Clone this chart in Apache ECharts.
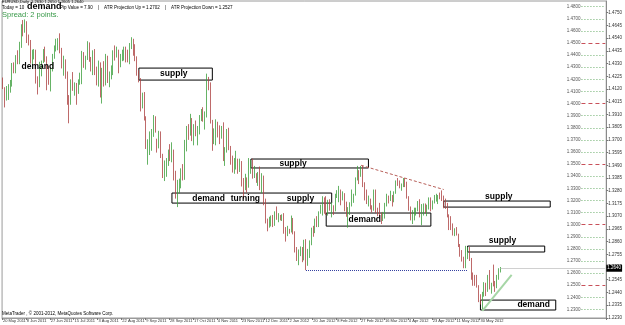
<!DOCTYPE html>
<html>
<head>
<meta charset="utf-8">
<script src="https://cdn.jsdelivr.net/npm/echarts@6/dist/echarts.min.js"></script>
<style>
	html, body { margin: 0; padding: 0; background: #fff; }
	#chart { width: 625px; height: 325px; }
</style>
</head>
<body>
<div id="chart"></div>
<script>
// date labels under the axis, one every 13 bars
var dateLabels = ['20 May 2011', '8 Jun 2011', '27 Jun 2011', '15 Jul 2011', '3 Aug 2011', '22 Aug 2011',
	'9 Sep 2011', '28 Sep 2011', '17 Oct 2011', '4 Nov 2011', '23 Nov 2011', '12 Dec 2011', '2 Jan 2012',
	'20 Jan 2012', '8 Feb 2012', '27 Feb 2012', '16 Mar 2012', '4 Apr 2012', '23 Apr 2012', '11 May 2012', '30 May 2012'];
var labelStep = 13;
var slotCount = 329; // bars + empty shift area on the right

// price scale labels (right)
var priceTicks = [1.4750, 1.4645, 1.4540, 1.4435, 1.4330, 1.4225, 1.4120, 1.4015, 1.3910, 1.3805, 1.3700,
	1.3595, 1.3490, 1.3385, 1.3280, 1.3175, 1.3070, 1.2965, 1.2860, 1.2755, 1.2650, 1.2545, 1.2440, 1.2335, 1.2230];

// daily bars EURUSD: [open, close, low, high]
var ohlc = [
	[1.4165,1.4155,1.4120,1.4215],[1.4120,1.4060,1.3968,1.4135],[1.4060,1.4105,1.4025,1.4145],[1.4105,1.4120,1.4030,1.4160],
	[1.4120,1.4155,1.4090,1.4195],[1.4155,1.4310,1.4140,1.4335],[1.4310,1.4300,1.4250,1.4340],[1.4300,1.4395,1.4250,1.4400],
	[1.4395,1.4370,1.4325,1.4440],[1.4370,1.4490,1.4325,1.4510],[1.4490,1.4640,1.4460,1.4655],[1.4640,1.4600,1.4555,1.4690],
	[1.4600,1.4665,1.4585,1.4695],[1.4665,1.4515,1.4500,1.4680],[1.4515,1.4500,1.4480,1.4570],[1.4500,1.4340,1.4330,1.4525],
	[1.4340,1.4385,1.4285,1.4445],[1.4385,1.4415,1.4365,1.4450],[1.4415,1.4185,1.4165,1.4445],[1.4185,1.4155,1.4075,1.4225],
	[1.4155,1.4310,1.4135,1.4345],[1.4310,1.4350,1.4225,1.4355],[1.4350,1.4415,1.4335,1.4450],[1.4415,1.4370,1.4345,1.4470],
	[1.4370,1.4225,1.4110,1.4390],[1.4225,1.4190,1.4155,1.4310],[1.4190,1.4290,1.4100,1.4300],[1.4290,1.4385,1.4265,1.4410],
	[1.4385,1.4470,1.4370,1.4480],[1.4470,1.4500,1.4430,1.4535],[1.4500,1.4525,1.4440,1.4540],[1.4525,1.4440,1.4415,1.4580],
	[1.4440,1.4330,1.4290,1.4460],[1.4330,1.4355,1.4230,1.4395],[1.4355,1.4260,1.4205,1.4365],[1.4260,1.4030,1.3990,1.4265],
	[1.4030,1.3990,1.3837,1.4070],[1.3990,1.4165,1.3990,1.4200],[1.4165,1.4150,1.4105,1.4260],[1.4150,1.4150,1.4065,1.4175],
	[1.4150,1.4090,1.3990,1.4170],[1.4090,1.4175,1.4080,1.4200],[1.4175,1.4215,1.4155,1.4255],[1.4215,1.4390,1.4160,1.4435],
	[1.4390,1.4355,1.4295,1.4425],[1.4355,1.4375,1.4280,1.4395],[1.4375,1.4490,1.4360,1.4515],[1.4490,1.4365,1.4345,1.4505],
	[1.4365,1.4340,1.4265,1.4385],[1.4340,1.4395,1.4235,1.4440],[1.4395,1.4245,1.4235,1.4450],[1.4245,1.4185,1.4150,1.4305],
	[1.4185,1.4305,1.4140,1.4355],[1.4305,1.4105,1.4050,1.4340],[1.4105,1.4280,1.4000,1.4295],[1.4280,1.4195,1.4140,1.4350],
	[1.4195,1.4375,1.4150,1.4410],[1.4375,1.4185,1.4170,1.4395],[1.4185,1.4240,1.4135,1.4265],[1.4240,1.4240,1.4200,1.4315],
	[1.4240,1.4425,1.4235,1.4440],[1.4425,1.4405,1.4355,1.4480],[1.4405,1.4440,1.4380,1.4470],[1.4440,1.4320,1.4250,1.4445],
	[1.4320,1.4390,1.4300,1.4410],[1.4390,1.4400,1.4350,1.4445],[1.4400,1.4450,1.4355,1.4470],[1.4450,1.4410,1.4340,1.4470],
	[1.4410,1.4380,1.4340,1.4445],[1.4380,1.4490,1.4325,1.4500],[1.4490,1.4500,1.4450,1.4548],[1.4500,1.4430,1.4395,1.4535],
	[1.4430,1.4375,1.4350,1.4490],[1.4375,1.4245,1.4230,1.4390],[1.4245,1.4205,1.4175,1.4275],[1.4205,1.4020,1.3935,1.4210],
	[1.4020,1.4070,1.3960,1.4090],[1.4070,1.3880,1.3860,1.4095],[1.3880,1.3655,1.3625,1.3895],[1.3655,1.3675,1.3495,1.3705],
	[1.3675,1.3705,1.3575,1.3770],[1.3705,1.3760,1.3610,1.3790],[1.3760,1.3880,1.3725,1.3905],[1.3880,1.3795,1.3760,1.3895],
	[1.3795,1.3685,1.3595,1.3710],[1.3685,1.3710,1.3630,1.3775],[1.3710,1.3570,1.3550,1.3770],[1.3570,1.3460,1.3385,1.3585],
	[1.3460,1.3500,1.3360,1.3530],[1.3500,1.3515,1.3395,1.3550],[1.3515,1.3600,1.3485,1.3620],[1.3600,1.3540,1.3525,1.3665],
	[1.3540,1.3590,1.3515,1.3680],[1.3590,1.3390,1.3365,1.3620],[1.3390,1.3250,1.3215,1.3445],[1.3250,1.3340,1.3145,1.3370],
	[1.3340,1.3350,1.3260,1.3380],[1.3350,1.3410,1.3300,1.3465],[1.3410,1.3375,1.3365,1.3500],[1.3385,1.3620,1.3370,1.3700],
	[1.3620,1.3790,1.3605,1.3815],[1.3790,1.3760,1.3700,1.3830],[1.3760,1.3880,1.3735,1.3915],[1.3880,1.3710,1.3690,1.3880],
	[1.3710,1.3805,1.3655,1.3830],[1.3805,1.3750,1.3730,1.3860],[1.3750,1.3765,1.3655,1.3815],[1.3765,1.3890,1.3745,1.3905],
	[1.3890,1.3915,1.3855,1.3955],[1.3915,1.3880,1.3850,1.3970],[1.3880,1.3905,1.3785,1.3935],[1.3905,1.4180,1.3885,1.4247],
	[1.4180,1.4145,1.4110,1.4220],[1.4145,1.3850,1.3835,1.4175],[1.3850,1.3700,1.3610,1.3865],[1.3700,1.3770,1.3665,1.3795],
	[1.3770,1.3810,1.3655,1.3870],[1.3810,1.3780,1.3720,1.3850],[1.3780,1.3770,1.3665,1.3820],[1.3770,1.3800,1.3710,1.3815],
	[1.3800,1.3540,1.3525,1.3845],[1.3540,1.3610,1.3485,1.3640],[1.3610,1.3750,1.3595,1.3790],[1.3750,1.3625,1.3615,1.3800],
	[1.3625,1.3530,1.3495,1.3650],[1.3530,1.3460,1.3430,1.3570],[1.3460,1.3460,1.3420,1.3550],[1.3460,1.3520,1.3455,1.3610],
	[1.3520,1.3485,1.3420,1.3545],[1.3485,1.3505,1.3435,1.3545],[1.3505,1.3350,1.3315,1.3525],[1.3350,1.3240,1.3212,1.3385],
	[1.3300,1.3330,1.3285,1.3420],[1.3330,1.3315,1.3265,1.3390],[1.3315,1.3445,1.3305,1.3550],[1.3445,1.3460,1.3420,1.3535],
	[1.3460,1.3390,1.3380,1.3545],[1.3390,1.3400,1.3385,1.3485],[1.3400,1.3390,1.3345,1.3425],[1.3390,1.3390,1.3320,1.3435],
	[1.3390,1.3350,1.3285,1.3480],[1.3350,1.3385,1.3260,1.3425],[1.3385,1.3180,1.3160,1.3405],[1.3180,1.3025,1.3010,1.3215],
	[1.3025,1.2990,1.2945,1.3050],[1.2990,1.3020,1.2975,1.3065],[1.3020,1.3045,1.2985,1.3075],[1.3045,1.3010,1.2980,1.3080],
	[1.3010,1.3070,1.2990,1.3110],[1.3070,1.3050,1.3040,1.3150],[1.3050,1.3060,1.3020,1.3095],[1.3060,1.3045,1.3035,1.3080],
	[1.3045,1.3080,1.3030,1.3085],[1.3080,1.2945,1.2925,1.3095],[1.2945,1.2940,1.2860,1.2980],[1.2940,1.2960,1.2905,1.2990],
	[1.2960,1.2945,1.2925,1.2965],[1.2945,1.3050,1.2935,1.3075],[1.3050,1.2940,1.2920,1.3055],[1.2940,1.2785,1.2770,1.2945],
	[1.2785,1.2720,1.2700,1.2815],[1.2720,1.2765,1.2665,1.2795],[1.2765,1.2805,1.2740,1.2820],[1.2805,1.2715,1.2690,1.2815],
	[1.2715,1.2825,1.2705,1.2875],[1.2825,1.2680,1.2624,1.2880],[1.2680,1.2740,1.2660,1.2800],[1.2740,1.2845,1.2725,1.2870],
	[1.2845,1.2960,1.2830,1.2975],[1.2960,1.2935,1.2900,1.2990],[1.2935,1.3045,1.2930,1.3050],[1.3045,1.3030,1.2980,1.3070],
	[1.3030,1.3100,1.2980,1.3110],[1.3100,1.3155,1.3090,1.3165],[1.3155,1.3215,1.3075,1.3235],[1.3215,1.3140,1.3090,1.3225],
	[1.3140,1.3085,1.3080,1.3235],[1.3085,1.3160,1.3075,1.3205],[1.3160,1.3145,1.3115,1.3210],[1.3145,1.3160,1.3060,1.3185],
	[1.3160,1.3135,1.3080,1.3160],[1.3135,1.3240,1.3110,1.3255],[1.3240,1.3265,1.3220,1.3285],[1.3265,1.3285,1.3185,1.3320],
	[1.3285,1.3195,1.3160,1.3290],[1.3195,1.3245,1.3200,1.3275],[1.3245,1.3140,1.3110,1.3260],[1.3140,1.3080,1.3065,1.3190],
	[1.3080,1.3140,1.2975,1.3145],[1.3140,1.3155,1.3080,1.3185],[1.3155,1.3235,1.3150,1.3290],[1.3235,1.3245,1.3180,1.3255],
	[1.3245,1.3385,1.3240,1.3390],[1.3385,1.3450,1.3365,1.3485],[1.3450,1.3415,1.3335,1.3450],[1.3415,1.3460,1.3395,1.3485],
	[1.3460,1.3330,1.3310,1.3486],[1.3330,1.3210,1.3200,1.3350],[1.3210,1.3205,1.3170,1.3290],[1.3205,1.3215,1.3150,1.3240],
	[1.3215,1.3140,1.3125,1.3215],[1.3140,1.3125,1.3100,1.3160],[1.3125,1.3275,1.3115,1.3290],[1.3275,1.3125,1.3095,1.3290],
	[1.3125,1.3110,1.3070,1.3140],[1.3110,1.3060,1.3055,1.3180],[1.3060,1.3050,1.3005,1.3100],[1.3050,1.3065,1.3030,1.3105],
	[1.3065,1.3175,1.3050,1.3180],[1.3175,1.3230,1.3150,1.3255],[1.3230,1.3215,1.3175,1.3240],[1.3215,1.3235,1.3195,1.3280],
	[1.3235,1.3195,1.3150,1.3245],[1.3195,1.3265,1.3185,1.3275],[1.3265,1.3350,1.3255,1.3365],[1.3350,1.3345,1.3320,1.3385],
	[1.3345,1.3315,1.3300,1.3365],[1.3315,1.3315,1.3280,1.3340],[1.3315,1.3345,1.3310,1.3385],[1.3345,1.3320,1.3310,1.3385],
	[1.3320,1.3230,1.3215,1.3355],[1.3230,1.3135,1.3115,1.3235],[1.3135,1.3065,1.3035,1.3150],[1.3065,1.3100,1.3005,1.3120],
	[1.3100,1.3100,1.3035,1.3140],[1.3100,1.3130,1.3075,1.3140],[1.3130,1.3155,1.3110,1.3195],[1.3155,1.3075,1.3060,1.3210],
	[1.3075,1.3150,1.2995,1.3170],[1.3150,1.3155,1.3075,1.3175],[1.3155,1.3125,1.3095,1.3175],[1.3125,1.3140,1.3070,1.3165],
	[1.3140,1.3220,1.3125,1.3225],[1.3220,1.3155,1.3110,1.3225],[1.3155,1.3185,1.3125,1.3200],[1.3185,1.3220,1.3175,1.3245],
	[1.3220,1.3225,1.3190,1.3255],[1.3225,1.3240,1.3170,1.3245],[1.3240,1.3235,1.3210,1.3265],[1.3235,1.3220,1.3195,1.3283],
	[1.3220,1.3160,1.3135,1.3240],[1.3160,1.3150,1.3130,1.3215],[1.3150,1.3080,1.3060,1.3180],[1.3080,1.3050,1.2955,1.3085],
	[1.3050,1.2975,1.2955,1.3070],[1.2975,1.2925,1.2910,1.3010],[1.2925,1.2945,1.2905,1.2970],[1.2945,1.2915,1.2910,1.2980],
	[1.2915,1.2830,1.2815,1.2925],[1.2830,1.2750,1.2735,1.2840],[1.2750,1.2715,1.2695,1.2790],[1.2715,1.2665,1.2640,1.2735],
	[1.2665,1.2780,1.2640,1.2825],[1.2780,1.2780,1.2715,1.2815],[1.2780,1.2715,1.2700,1.2815],[1.2715,1.2580,1.2545,1.2725],
	[1.2580,1.2565,1.2495,1.2605],[1.2565,1.2515,1.2495,1.2585],[1.2515,1.2490,1.2480,1.2585],[1.2490,1.2375,1.2360,1.2500],
	[1.2375,1.2365,1.2340,1.2425],[1.2365,1.2435,1.2288,1.2445],[1.2435,1.2500,1.2405,1.2525],[1.2500,1.2455,1.2410,1.2520],
	[1.2455,1.2565,1.2445,1.2585],[1.2565,1.2475,1.2465,1.2625],[1.2475,1.2515,1.2430,1.2520],[1.2515,1.2500,1.2490,1.2670],
	[1.2500,1.2495,1.2445,1.2535],[1.2495,1.2565,1.2475,1.2585],[1.2565,1.2630,1.2545,1.2640],[1.2630,1.2640,1.2605,1.2650]
];

// round-number levels drawn at the right edge
var levelLines = [1.48, 1.47, 1.46, 1.45, 1.44, 1.43, 1.42, 1.41, 1.40, 1.39, 1.38, 1.37, 1.36,
	1.35, 1.34, 1.33, 1.32, 1.31, 1.30, 1.29, 1.28, 1.27, 1.26, 1.25, 1.24, 1.23];
var majorLevels = [1.45, 1.40, 1.35, 1.30, 1.25];

// supply / demand boxes: [from bar, to bar, low, high]
var zones = [
	[74, 114, 1.4194, 1.4293],
	[135, 199, 1.3468, 1.3542],
	[92, 179, 1.3178, 1.3261],
	[176, 233, 1.2988, 1.3096],
	[240, 298, 1.3145, 1.3195],
	[253, 295, 1.2774, 1.2823],
	[260, 301, 1.2295, 1.2377]
];
// notes: [text, bar, price]
var notes = [
	['demand', 19, 1.4302],
	['supply', 93, 1.4244],
	['supply', 158, 1.3505],
	['demand', 112, 1.3218],
	['turning', 132, 1.3218],
	['supply', 162, 1.3218],
	['demand', 197, 1.3040],
	['supply', 270, 1.3228],
	['supply', 272, 1.2864],
	['demand', 289, 1.2336]
];
// drawn lines: [bar1, price1, bar2, price2]
var trendDown = [195, 1.3490, 240, 1.3290];
var janLow = [165, 1.2624, 253, 1.2624];
var trendUp = [261, 1.2288, 277, 1.2585];
var lastPrice = 1.2640;
</script>
<script>
(function() {
	var myChart = echarts.init(document.getElementById('chart'));

	var cats = [];
	for (var i = 0; i < slotCount; i++) cats.push(i);

	function showDate(idx) {
		return idx % labelStep === 0 && idx / labelStep < dateLabels.length;
	}

	var lineData = [];
	levelLines.forEach(function(v) {
		var major = majorLevels.indexOf(v) >= 0;
		lineData.push([{
			coord: [315, v],
			lineStyle: {
				color: major ? '#c8505a' : '#6cae6c',
				type: major ? [4, 3] : [1, 2],
				width: 1
			},
			label: {
				show: true,
				position: 'start',
				distance: 1,
				formatter: v.toFixed(4),
				fontSize: 4.5,
				color: '#555'
			}
		}, {
			coord: [slotCount - 1, v]
		}]);
	});
	lineData.push([{
		coord: [trendDown[0], trendDown[1]],
		lineStyle: { color: '#b8605a', type: [3, 2], width: 1 }
	}, { coord: [trendDown[2], trendDown[3]] }]);
	lineData.push([{
		coord: [janLow[0], janLow[1]],
		lineStyle: { color: '#3440a0', type: [1, 1], width: 1 }
	}, { coord: [janLow[2], janLow[3]] }]);
	lineData.push([{
		coord: [trendUp[0], trendUp[1]],
		lineStyle: { color: '#a6d6a6', type: 'solid', width: 2 }
	}, { coord: [trendUp[2], trendUp[3]] }]);
	lineData.push([{
		coord: [ohlc.length - 1, lastPrice],
		lineStyle: { color: '#d0d0d0', type: 'solid', width: 1 }
	}, {
		coord: [slotCount - 1, lastPrice],
		label: {
			show: true,
			position: 'end',
			distance: 1,
			formatter: lastPrice.toFixed(4),
			fontSize: 4.5,
			color: '#fff',
			backgroundColor: '#000',
			padding: [1, 1]
		}
	}]);

	var areaData = zones.map(function(z) {
		return [{ coord: [z[0], z[3]] }, { coord: [z[1], z[2]] }];
	});

	var pointData = notes.map(function(n) {
		return { name: n[0], coord: [n[1], n[2]] };
	});

	var option = {
		animation: false,
		backgroundColor: '#fff',
		grid: {
			left: 2,
			right: 15,
			top: 1,
			bottom: 7,
			show: true,
			borderColor: '#9a9a9a',
			borderWidth: 1
		},
		xAxis: {
			type: 'category',
			data: cats,
			boundaryGap: true,
			axisLine: { lineStyle: { color: '#9a9a9a' } },
			axisTick: {
				show: true,
				length: 2,
				lineStyle: { color: '#777' },
				interval: function(idx) { return showDate(idx); }
			},
			axisLabel: {
				fontSize: 4,
				color: '#333',
				margin: 1,
				align: 'left',
				hideOverlap: false,
				showMinLabel: true,
				fontFamily: 'Liberation Sans',
				interval: function(idx) { return showDate(idx); },
				formatter: function(v, idx) { return dateLabels[idx / labelStep] || ''; }
			},
			splitLine: { show: false }
		},
		yAxis: {
			type: 'value',
			position: 'right',
			min: 1.2229,
			max: 1.4847,
			axisLine: { show: true, lineStyle: { color: '#8a8a8a' } },
			axisTick: { show: true, length: 2, customValues: priceTicks, lineStyle: { color: '#777' } },
			axisLabel: {
				fontSize: 4.5,
				color: '#333',
				margin: 2,
				fontFamily: 'Liberation Sans',
				customValues: priceTicks,
				formatter: function(v) { return v.toFixed(4); }
			},
			splitLine: { show: false }
		},
		series: [{
			type: 'candlestick',
			data: ohlc,
			barWidth: 1.3,
			itemStyle: {
				color: '#3f9f3f',
				color0: '#ad4444',
				borderColor: '#3f9f3f',
				borderColor0: '#ad4444',
				borderWidth: 0.8
			},
			markArea: {
				silent: true,
				itemStyle: {
					color: 'rgba(255,255,255,0)',
					borderColor: '#000',
					borderWidth: 1
				},
				label: { show: false },
				data: areaData
			},
			markLine: {
				silent: true,
				symbol: ['none', 'none'],
				label: { show: false },
				data: lineData
			},
			markPoint: {
				silent: true,
				symbol: 'circle',
				symbolSize: 1,
				itemStyle: { color: 'rgba(0,0,0,0)' },
				label: {
					show: true,
					position: 'inside',
					formatter: function(p) { return p.name; },
					fontSize: 8.5,
					fontWeight: 'bold',
					fontFamily: 'Liberation Sans',
					color: '#000'
				},
				data: pointData
			}
		}],
		graphic: [{
			type: 'text', left: 2, top: 0,
			style: { text: 'EURUSD,Daily  1.2630 1.2650 1.2605 1.2640', fontSize: 4, fill: '#000', fontFamily: 'Liberation Sans' }
		}, {
			type: 'text', left: 2, top: 5,
			style: { text: 'Today = 10', fontSize: 4.5, fill: '#000', fontFamily: 'Liberation Sans' }
		}, {
			type: 'text', left: 27, top: 2,
			style: { text: 'demand', fontSize: 9, fontWeight: 'bold', fill: '#000', fontFamily: 'Liberation Sans' }
		}, {
			type: 'text', left: 60, top: 5,
			style: { text: 'Pip Value = 7.90    |    ATR Projection Up = 1.2702    |    ATR Projection Down = 1.2527', fontSize: 4.5, fill: '#000', fontFamily: 'Liberation Sans' }
		}, {
			type: 'text', left: 2, top: 11,
			style: { text: 'Spread: 2 points.', fontSize: 7.5, fill: '#3a9a4a', fontFamily: 'Liberation Sans' }
		}, {
			type: 'text', left: 2, top: 311,
			style: { text: 'MetaTrader , \u00a9 2001-2012, MetaQuotes Software Corp.', fontSize: 4.5, fill: '#000', fontFamily: 'Liberation Sans' }
		}]
	};

	myChart.setOption(option, true);
	window.onresize = function() {
		myChart.resize();
	};
})();
</script>
</body>
</html>
